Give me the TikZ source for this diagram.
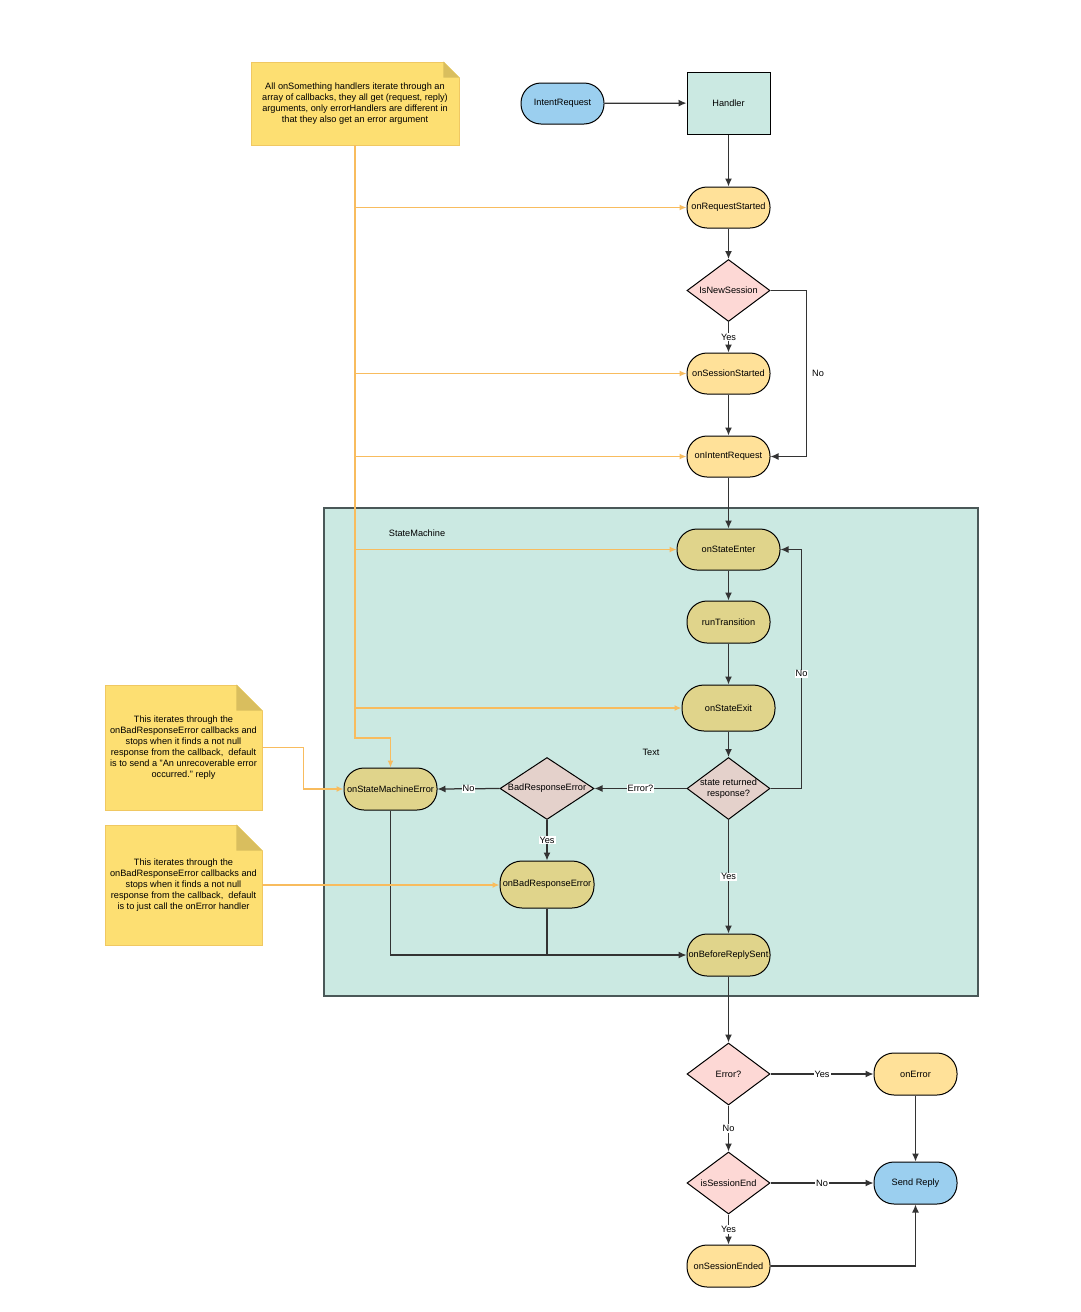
\documentclass[tikz,border=0pt]{standalone}
\usepackage{fontspec}
\setmainfont{Liberation Sans}
\usetikzlibrary{arrows.meta,shapes.geometric,calc}
\definecolor{cyel}{HTML}{FFE199}
\definecolor{colive}{HTML}{E0D48B}
\definecolor{cblue}{HTML}{9BCFEF}
\definecolor{cpink}{HTML}{FDD8D5}
\definecolor{cmpink}{HTML}{E4D1CB}
\definecolor{cteal}{HTML}{CBE9E2}
\definecolor{cnote}{HTML}{FDDF72}
\definecolor{cfold}{HTML}{D9BE5E}
\definecolor{cnoteb}{HTML}{F0C862}
\definecolor{corange}{HTML}{F8BC5E}
\definecolor{cconn}{HTML}{333333}
\definecolor{csmb}{HTML}{4A5858}
\newcommand{\zw}[1]{\makebox[0pt]{#1}}
\begin{document}
\begin{tikzpicture}[x=1pt,y=-1pt,
  font=\fontsize{9.2}{11}\selectfont,
  pill/.style={draw=black, line width=1pt, rounded corners=20pt, minimum width=83pt, minimum height=41pt, inner sep=0pt},
  yel/.style={pill, fill=cyel},
  olv/.style={pill, fill=colive},
  blu/.style={pill, fill=cblue},
  hbox/.style={draw=black, line width=1pt, fill=cteal, minimum width=83pt, minimum height=62pt, inner sep=0pt},
  dia/.style={diamond, draw=black, line width=1pt, minimum width=83pt, minimum height=62pt, inner sep=0pt, fill=cpink},
  mdia/.style={dia, fill=cmpink},
  notebox/.style={fill=cnote, draw=cnoteb, line width=0.8pt, inner sep=0pt, align=center},
  smbox/.style={fill=cteal, draw=csmb, line width=1.2pt, minimum width=654pt, minimum height=488pt, inner sep=0pt},
  conn/.style={draw=cconn, line width=1.25pt, -{Latex[length=8pt,width=7pt]}},
  plainline/.style={draw=cconn, line width=1.25pt},
  oline/.style={draw=corange, line width=1.3pt},
  oarrow/.style={oline, -{Latex[length=7pt,width=6pt]}},
  lbl/.style={fill=white, inner sep=1pt, text=black},
  olbl/.style={inner sep=1pt, text=black},
]
\useasboundingbox (0,0) rectangle (1080,1312);
\fill[white] (0,0) rectangle (1080,1312);

% state machine container
\node[smbox] (sm) at (651,752) {Text};
\node[inner sep=0pt] (smlabel) at (417,533) {StateMachine};

% notes
\node[notebox, minimum width=208pt, minimum height=83pt] (n1) at (355,103.5)
  {All onSomething handlers iterate through an\\array of callbacks, they all get (request, reply)\\arguments, only errorHandlers are different in\\that they also get an error argument};
\fill[white] ($(n1.north east)+(-16,-0.5)$) -- ($(n1.north east)+(0.5,-0.5)$) -- ($(n1.north east)+(0.5,16)$) -- cycle;
\fill[cfold] ($(n1.north east)+(-16,0)$) -- ($(n1.north east)+(0,16)$) -- ($(n1.north east)+(-16,16)$) -- cycle;

\node[notebox, minimum width=157pt, minimum height=125pt] (n2) at (183.5,747.5)
  {This iterates through the\\onBadResponseError callbacks and\\stops when it finds a not null\\response from the callback,\ \ default\\is to send a "An unrecoverable error\\occurred." reply};
\fill[white] ($(n2.north east)+(-26,-0.5)$) -- ($(n2.north east)+(0.5,-0.5)$) -- ($(n2.north east)+(0.5,26)$) -- cycle;
\fill[cfold] ($(n2.north east)+(-26,0)$) -- ($(n2.north east)+(0,26)$) -- ($(n2.north east)+(-26,26)$) -- cycle;

\node[notebox, minimum width=157pt, minimum height=120pt] (n3) at (183.5,885)
  {This iterates through the\\onBadResponseError callbacks and\\stops when it finds a not null\\response from the callback,\ \ default\\is to just call the onError handler};
\fill[white] ($(n3.north east)+(-26,-0.5)$) -- ($(n3.north east)+(0.5,-0.5)$) -- ($(n3.north east)+(0.5,26)$) -- cycle;
\fill[cfold] ($(n3.north east)+(-26,0)$) -- ($(n3.north east)+(0,26)$) -- ($(n3.north east)+(-26,26)$) -- cycle;

% main nodes
\node[blu] (ir) at (562.5,103.5) {IntentRequest};
\node[hbox] (handler) at (728.5,103) {Handler};
\node[yel] (ors) at (728.5,207.5) {onRequestStarted};
\node[dia] (isnew) at (728.5,290.5) {\zw{IsNewSession}};
\node[yel] (oss) at (728.5,373.5) {onSessionStarted};
\node[yel] (oir) at (728.5,456.5) {onIntentRequest};
\node[olv, minimum width=103pt] (ose) at (728.5,549.5) {onStateEnter};
\node[olv, minimum height=42pt] (rt) at (728.5,622) {runTransition};
\node[olv, minimum width=93pt, minimum height=46pt, rounded corners=22pt] (osx) at (728.5,708) {onStateExit};
\node[mdia] (srr) at (728.5,788.5) {\zw{\begin{tabular}{@{}c@{}}state returned\\response?\end{tabular}}};
\node[mdia, minimum width=94pt] (bre) at (547,788.5) {\zw{BadResponseError}};
\node[olv, minimum width=93pt, minimum height=42pt] (sme) at (390.5,789) {\zw{onStateMachineError}};
\node[olv, minimum width=94pt, minimum height=47pt, rounded corners=22pt] (obre) at (547,884.5) {\zw{onBadResponseError}};
\node[olv, minimum height=42pt] (brs) at (728.5,955) {\zw{onBeforeReplySent}};
\node[dia] (err) at (728.5,1074) {\zw{Error?}};
\node[yel, minimum height=42pt] (onerr) at (915.5,1074) {onError};
\node[dia] (ise) at (728.5,1183) {\zw{isSessionEnd}};
\node[blu, minimum height=42pt] (sr) at (915.5,1183) {Send Reply};
\node[yel, minimum height=42pt] (ose2) at (728.5,1266) {onSessionEnded};

% connectors
\draw[conn] (ir) -- (handler);
\draw[conn] (handler) -- (ors);
\draw[conn] (ors) -- (isnew);
\draw[conn] (isnew) -- node[lbl] (l1) {Yes} (oss);
\draw[conn] (isnew.east) -- ++(36,0) |- node[pos=0.25, right=4pt, olbl] (l2) {No} (oir.east);
\draw[conn] (oss) -- (oir);
\draw[conn] (oir) -- (ose);
\draw[conn] (ose) -- (rt);
\draw[conn] (rt) -- (osx);
\draw[conn] (osx) -- (srr);
\draw[conn] (srr.east) -- ++(31,0) |- node[pos=0.24, lbl] (l3) {No} (ose.east);
\draw[conn] (srr.west) -- node[lbl] (l4) {Error?} (bre.east);
\draw[conn] (bre.west) -- node[lbl] (l5) {No} (sme.east);
\draw[conn] (bre) -- node[lbl] (l6) {Yes} (obre);
\draw[conn] (srr) -- node[lbl] (l7) {Yes} (brs);
\draw[conn] (sme.south) |- (brs.west);
\draw[plainline] (obre.south) -- (obre.south |- brs.west);
\draw[conn] (brs) -- (err);
\draw[conn] (err.east) -- node[lbl] (l8) {Yes} (onerr.west);
\draw[conn] (err) -- node[lbl] (l9) {No} (ise);
\draw[conn] (ise.east) -- node[lbl] (l10) {No} (sr.west);
\draw[conn] (onerr) -- (sr);
\draw[conn] (ise) -- node[lbl] (l11) {Yes} (ose2);
\draw[conn] (ose2.east) -| (sr.south);

% orange note connectors
\coordinate (obend) at (355,738);
\draw[oarrow] (n1.south) -- (obend) -| (sme.north);
\draw[oarrow] (n1.south |- ors) -- (ors.west);
\draw[oarrow] (n1.south |- oss) -- (oss.west);
\draw[oarrow] (n1.south |- oir) -- (oir.west);
\draw[oarrow] (n1.south |- ose) -- (ose.west);
\draw[oarrow] (n1.south |- osx) -- (osx.west);
\draw[oarrow] (n2.east) -- ++(41,0) |- (sme.west);
\draw[oarrow] (n3.east) -- (n3.east -| obre.west);
\end{tikzpicture}
\end{document}
